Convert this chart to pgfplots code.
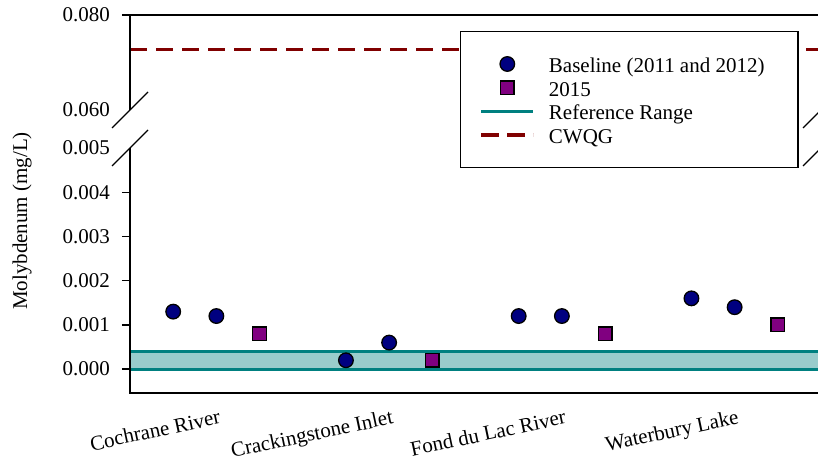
\documentclass[border=0pt]{standalone}
\usepackage{fontspec}
\setmainfont{Liberation Serif}
\usepackage{pgfplots}
\pgfplotsset{compat=1.18}
\definecolor{navyc}{RGB}{0,0,128}
\definecolor{purp}{RGB}{128,0,128}
\definecolor{tealc}{RGB}{0,128,128}
\definecolor{bandc}{RGB}{153,204,204}
\definecolor{cwqg}{RGB}{128,0,0}
\newcommand{\fs}{\fontsize{21bp}{25bp}\selectfont}
\pgfplotsset{
  common/.style={
    scale only axis, width=691bp, xmin=-0.5, xmax=3.5,
    axis line style={draw=none},
    tick align=outside, ytick pos=left, major tick length=8bp,
    tick style={black, line width=1.3bp},
    scaled y ticks=false,
    clip=false,
    tick label style={font=\fs},
    label style={font=\fs},
    yticklabel style={/pgf/number format/assume math mode=true,
      /pgf/number format/fixed, /pgf/number format/fixed zerofill,
      /pgf/number format/precision=3, inner sep=0pt, xshift=-12bp},
  },
}
\begin{document}
\fs
\begin{tikzpicture}
\path[use as bounding box] (0bp,0bp) rectangle (818bp,461bp);
% upper panel
\begin{axis}[common, at={(130bp,351bp)}, anchor=south west, height=95bp,
  ymin=0.06, ymax=0.08, ytick={0.08}, extra y ticks={0.06},
  extra y tick style={tick style={draw=none}},
  xtick=\empty,
  legend image code/.code={\draw[mark repeat=2,mark phase=2,#1] plot coordinates {(0bp,0bp) (26bp,0bp) (52bp,0bp)};},
  legend style={at={(axis description cs:0.4776,0.8316)}, anchor=north west,
    draw=black, line width=1.3bp, fill=white, inner xsep=19bp, inner ysep=20.7bp,
    row sep=0.37bp, column sep=14bp, font=\fs,
    nodes={inner sep=0pt, text height=20bp, text depth=3.3bp}},
  legend cell align=left,
]
\addplot[cwqg, line width=3.3bp, dash pattern=on 17.3bp off 8.7bp, forget plot] coordinates {(-0.5,0.0728) (3.5,0.0728)};
\addlegendimage{only marks, mark=*, mark size=7.3bp, mark options={fill=navyc, draw=black, line width=1.3bp}}
\addlegendentry{\makebox[230bp][l]{Baseline (2011 and 2012)}}
\addlegendimage{only marks, mark=square*, mark size=6.8bp, mark options={fill=purp, draw=black, line width=1.3bp}}
\addlegendentry{2015}
\addlegendimage{tealc, line width=3bp}
\addlegendentry{Reference Range}
\addlegendimage{cwqg, line width=3.3bp, dash pattern=on 17.3bp off 8.7bp}
\addlegendentry{CWQG}
\draw[line width=1.3bp] (axis description cs:0,0) -- (axis description cs:0,1) -- (axis description cs:1,1);
\draw[line width=1.3bp] (axis description cs:0,0) ++(-18bp,-18bp) -- ++(36bp,36bp);
\draw[line width=1.3bp] (axis description cs:1,0) ++(-18bp,-18bp) -- ++(36bp,36bp);
\end{axis}
% lower panel
\begin{axis}[common, at={(130bp,68bp)}, anchor=south west, height=245bp,
  ymin=-0.00054, ymax=0.005, ytick={0,0.001,0.002,0.003,0.004}, extra y ticks={0.005},
  extra y tick style={tick style={draw=none}},
  xtick={0,1,2,3}, xtick style={draw=none},
  xticklabels={Cochrane River, Crackingstone Inlet, Fond du Lac River, Waterbury Lake},
  xticklabel style={xshift=2bp, yshift=-8bp, rotate=12, anchor=north east, inner sep=0pt},
  ylabel={Molybdenum (mg/L)},
  ylabel style={at={(axis description cs:-0.1563,0.702)}, anchor=center},
]
\addplot[fill=bandc, draw=none] coordinates {(-0.5,0.0004) (3.5,0.0004)} \closedcycle;
\addplot[tealc, line width=3bp] coordinates {(-0.5,0) (3.5,0)};
\addplot[tealc, line width=3bp] coordinates {(-0.5,0.0004) (3.5,0.0004)};
\addplot[only marks, mark=*, mark size=7.3bp, mark options={fill=navyc, draw=black, line width=1.3bp}] table {
x y
-0.25 0.0013
0 0.0012
0.75 0.0002
1 0.0006
1.75 0.0012
2 0.0012
2.75 0.0016
3 0.0014
};
\addplot[only marks, mark=square*, mark size=6.8bp, mark options={fill=purp, draw=black, line width=1.3bp}] table {
x y
0.25 0.0008
1.25 0.0002
2.25 0.0008
3.25 0.0010
};
\draw[line width=1.3bp] (axis description cs:0,1) -- (axis description cs:0,0) -- (axis description cs:1,0);
\draw[line width=1.3bp] (axis description cs:0,1) ++(-18bp,-18bp) -- ++(36bp,36bp);
\draw[line width=1.3bp] (axis description cs:1,1) ++(-18bp,-18bp) -- ++(36bp,36bp);
\end{axis}
\end{tikzpicture}
\end{document}
